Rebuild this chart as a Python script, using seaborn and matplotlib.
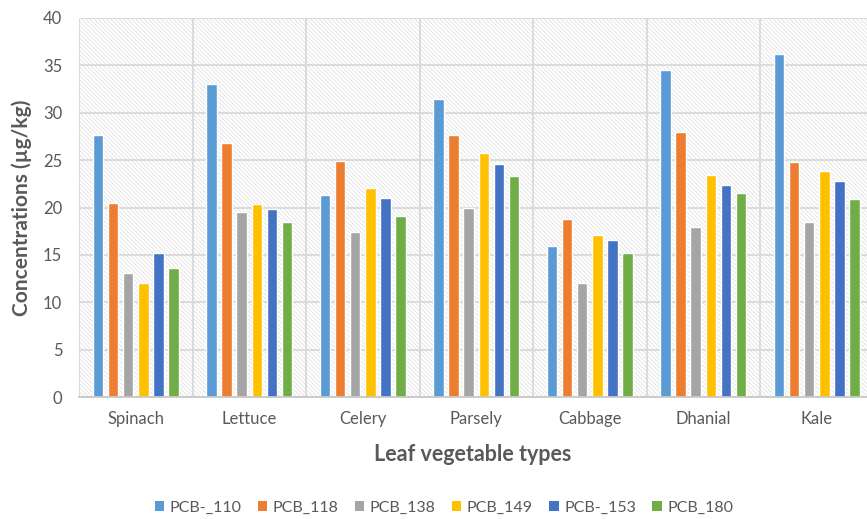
import matplotlib
matplotlib.use("Agg")
import matplotlib.pyplot as plt
from matplotlib.patches import Rectangle
import seaborn as sns
import pandas as pd

vegetables = ["Spinach", "Lettuce", "Celery", "Parsely", "Cabbage", "Dhanial", "Kale"]
congeners = ["PCB-_110", "PCB_118", "PCB_138", "PCB_149", "PCB-_153", "PCB_180"]

pcb_110 = [27.7, 33.0, 21.3, 31.4, 15.9, 34.5, 36.15]
pcb_118 = [20.5, 26.8, 24.9, 27.6, 18.8, 27.95, 24.75]
pcb_138 = [13.05, 19.5, 17.45, 20.0, 12.05, 17.9, 18.45]
pcb_149 = [12.0, 20.4, 22.05, 25.7, 17.05, 23.4, 23.85]
pcb_153 = [15.2, 19.8, 21.05, 24.6, 16.6, 22.4, 22.8]
pcb_180 = [13.65, 18.5, 19.1, 23.35, 15.25, 21.55, 20.9]

colors = ["#5B9BD5", "#ED7D31", "#A5A5A5", "#FFC000", "#4472C4", "#70AD47"]

series = [pcb_110, pcb_118, pcb_138, pcb_149, pcb_153, pcb_180]
rows = []
for name, vals in zip(congeners, series):
    for veg, v in zip(vegetables, vals):
        rows.append({"Vegetable": veg, "Congener": name, "Concentration": v})
df = pd.DataFrame(rows)

sns.set_theme(style="white")
plt.rcParams["font.family"] = ["Lato", "DejaVu Sans"]
plt.rcParams["hatch.linewidth"] = 0.5

W, H = 867, 519
fig = plt.figure(figsize=(W / 100, H / 100), dpi=100)
left, right, top, bottom = 79, 867, 18, 397
ax = fig.add_axes([left / W, 1 - bottom / H, (right - left) / W, (bottom - top) / H])

# fine diagonal hatch across the plot area
bg = Rectangle((0, 0), 1, 1, transform=ax.transAxes, facecolor="white",
               edgecolor="#dcdcdc", hatch="\\" * 8, linewidth=0, zorder=0)
ax.add_patch(bg)

sns.barplot(data=df, x="Vegetable", y="Concentration", hue="Congener",
            hue_order=congeners, palette=colors, saturation=1, width=0.8, gap=0.3,
            errorbar=None, legend=False, ax=ax, zorder=3)

ax.set_ylim(0, 40)
ax.set_yticks(range(0, 41, 5))
ax.set_xlim(-0.5, 6.5 - 6.5 / 113.5)

grid_c = "#d9d9d9"
ax.yaxis.grid(True, color=grid_c, linewidth=1.3, zorder=1)
for b in [i + 0.5 for i in range(-1, 7)]:
    ax.axvline(b, color=grid_c, linewidth=1.3, zorder=1)
ax.set_axisbelow(True)

for s in ["top", "right", "left"]:
    ax.spines[s].set_visible(False)
ax.spines["bottom"].set_color("#c8c8c8")
ax.spines["bottom"].set_linewidth(1.3)
ax.spines["bottom"].set_zorder(4)

ax.tick_params(axis="both", length=0, labelsize=12, colors="#595959")
ax.tick_params(axis="x", pad=10)
ax.tick_params(axis="y", pad=12)

ax.set_xlabel("Leaf vegetable types", fontsize=15.5, fontweight="bold",
              color="#595959", labelpad=12)
ax.set_ylabel("Concentrations (µg/kg)", fontsize=15, fontweight="bold",
              color="#595959", labelpad=8)

handles = [plt.Rectangle((0, 0), 1, 1, facecolor=c, edgecolor="none") for c in colors]
fig.legend(handles, congeners, loc="center", bbox_to_anchor=(0.512, 0.022), ncol=6,
           frameon=False, fontsize=11.5, handlelength=0.6, handleheight=0.6,
           handletextpad=0.35, columnspacing=1.0, labelcolor="#595959")

fig.savefig("out.png", dpi=100)
